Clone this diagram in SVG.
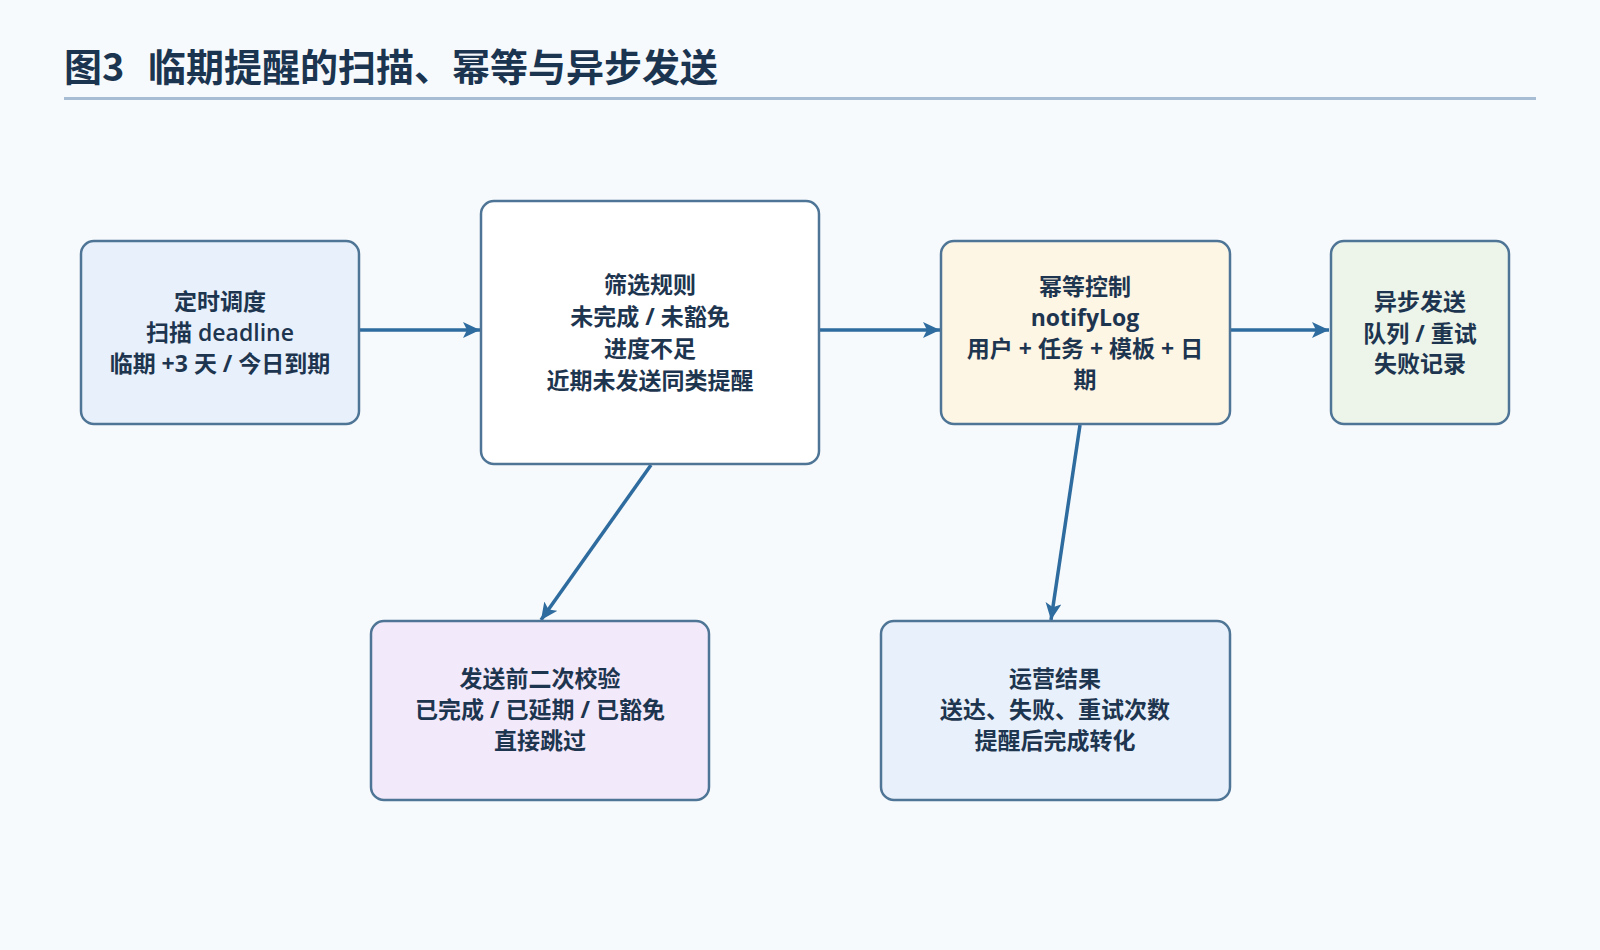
<svg xmlns="http://www.w3.org/2000/svg" width="1600" height="950" viewBox="0 0 1600 950">
<defs>
<marker id="arr" markerUnits="userSpaceOnUse" markerWidth="20" markerHeight="18" refX="17" refY="8" orient="auto">
<path d="M0,0 L17,8 L0,16 L4,8 Z" fill="#2e6b9e"/>
</marker>
<style>
.t{font-family:"Noto Sans CJK SC","Noto Sans",sans-serif;font-weight:700;fill:#1b3550}
.n{stroke:#4f7596;stroke-width:2.5}
.lb{font-family:"Open Sans","Noto Sans CJK SC",sans-serif;font-weight:700;font-size:23px;fill:#1e3550;text-anchor:middle}
.c{stroke:#2e6b9e;stroke-width:3.5;fill:none;marker-end:url(#arr)}
</style>
</defs>
<rect width="1600" height="950" fill="#f6fafc"/>
<text class="t" x="64" y="81" font-size="38">图3</text>
<text class="t" x="148" y="81" font-size="38">临期提醒的扫描、幂等与异步发送</text>
<rect x="64" y="97" width="1472" height="3" fill="#a6bdd4"/>
<g id="connectors">
<line class="c" x1="360" y1="330" x2="480" y2="330"/>
<line class="c" x1="820" y1="330" x2="940" y2="330"/>
<line class="c" x1="1230" y1="330" x2="1329" y2="330"/>
<line class="c" x1="651" y1="465" x2="541" y2="620"/>
<line class="c" x1="1080" y1="425" x2="1051" y2="620"/>
</g>
<g id="n1">
<rect class="n" x="81" y="241" width="278" height="183" rx="13" fill="#e8f1fb"/>
<text class="lb" x="220" y="310">定时调度</text>
<text class="lb" x="220" y="341"><tspan font-weight="600">扫描 deadline</tspan></text>
<text class="lb" x="220" y="372">临期 +3 天 / 今日到期</text>
</g>
<g id="n2">
<rect class="n" x="481" y="201" width="338" height="263" rx="13" fill="#ffffff"/>
<text class="lb" x="650" y="293">筛选规则</text>
<text class="lb" x="650" y="325">未完成 / 未豁免</text>
<text class="lb" x="650" y="357">进度不足</text>
<text class="lb" x="650" y="389">近期未发送同类提醒</text>
</g>
<g id="n3">
<rect class="n" x="941" y="241" width="289" height="183" rx="13" fill="#fdf6e5"/>
<text class="lb" x="1085" y="295">幂等控制</text>
<text class="lb" x="1085" y="326" font-weight="600">notifyLog</text>
<text class="lb" x="1085" y="357">用户 + 任务 + 模板 + 日</text>
<text class="lb" x="1085" y="388">期</text>
</g>
<g id="n4">
<rect class="n" x="1331" y="241" width="178" height="183" rx="13" fill="#edf5ea"/>
<text class="lb" x="1420" y="310">异步发送</text>
<text class="lb" x="1420" y="342">队列 / 重试</text>
<text class="lb" x="1420" y="372">失败记录</text>
</g>
<g id="n5">
<rect class="n" x="371" y="621" width="338" height="179" rx="13" fill="#f2eafa"/>
<text class="lb" x="540" y="687">发送前二次校验</text>
<text class="lb" x="540" y="718">已完成 / 已延期 / 已豁免</text>
<text class="lb" x="540" y="749">直接跳过</text>
</g>
<g id="n6">
<rect class="n" x="881" y="621" width="349" height="179" rx="13" fill="#e8f1fb"/>
<text class="lb" x="1055" y="687">运营结果</text>
<text class="lb" x="1055" y="718">送达、失败、重试次数</text>
<text class="lb" x="1055" y="749">提醒后完成转化</text>
</g>
</svg>
